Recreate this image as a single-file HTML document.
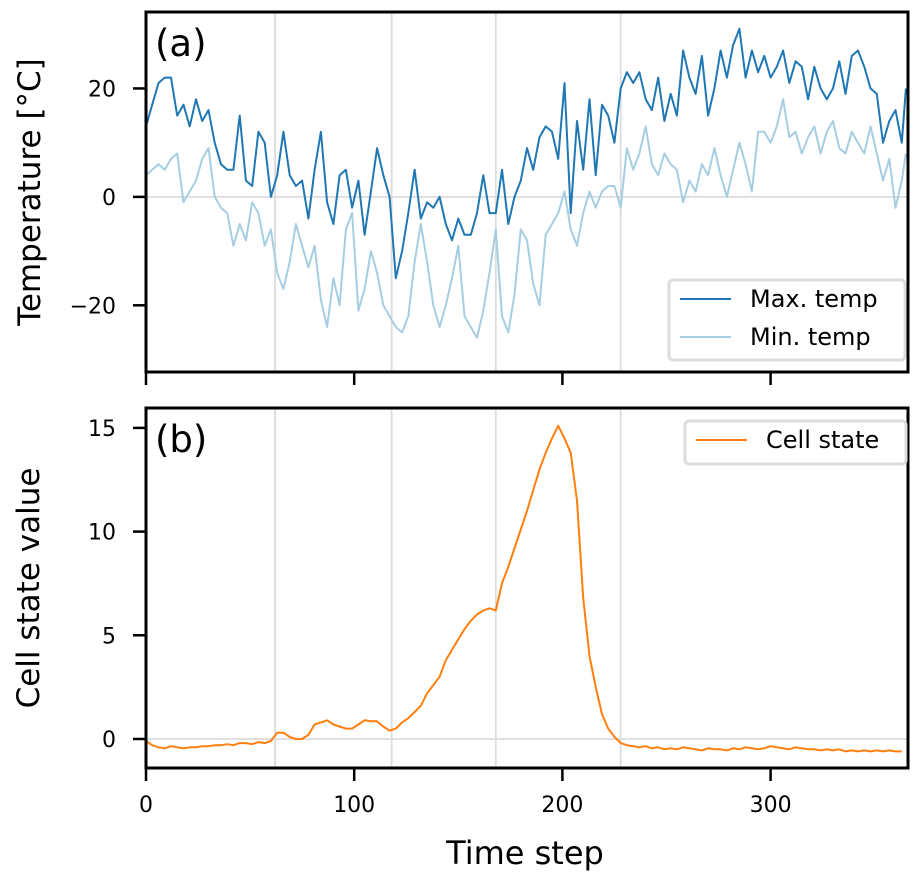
<!DOCTYPE html>
<html><head><meta charset="utf-8"><style>
body{margin:0;background:#fff}
svg text{font-family:"DejaVu Sans","Liberation Sans",sans-serif;fill:#000}
</style></head><body>
<svg id="chart" width="920" height="883" xmlns="http://www.w3.org/2000/svg"></svg>
<script>
const stepT = 3;
const maxTemp = [13,17,21,22,22,15,17,13,18,14,16,10,6,5,5,15,3,2,12,10,0,4,12,4,2,3,-4,5,12,-1,-5,4,5,-2,3,-7,1,9,4,0,-15,-10,-3,5,-4,-1,-2,0,-5,-8,-4,-7,-7,-3,4,-3,-3,5,-5,0,3,9,5,11,13,12,7,21,-3,14,5,18,4,17,15,10,20,23,21,23,18,16,22,14,19,15,27,22,19,26,15,20,27,22,28,31,22,27,23,26,22,24,27,21,25,24,18,24,20,18,20,25,19,26,27,24,20,19,10,14,16,10,20];
const minTemp = [4,5,6,5,7,8,-1,1,3,7,9,0,-2,-3,-9,-5,-8,-1,-3,-9,-6,-14,-17,-12,-5,-9,-13,-9,-19,-24,-15,-20,-6,-3,-21,-17,-10,-14,-20,-22,-24,-25,-22,-12,-5,-12,-20,-24,-20,-15,-9,-22,-24,-26,-21,-14,-6,-22,-25,-18,-6,-8,-16,-20,-7,-5,-3,1,-6,-9,-3,1,-2,1,2,2,-2,9,5,8,13,6,4,8,6,5,-1,3,1,6,4,9,4,0,5,10,6,1,12,12,10,13,18,11,12,8,11,13,8,12,14,9,8,12,10,8,13,8,3,7,-2,3,8];
const cellState = [-0.1,-0.3,-0.4,-0.45,-0.35,-0.4,-0.45,-0.4,-0.4,-0.35,-0.35,-0.3,-0.3,-0.25,-0.3,-0.2,-0.2,-0.25,-0.15,-0.2,-0.1,0.3,0.3,0.1,0,0,0.2,0.7,0.8,0.9,0.7,0.6,0.5,0.5,0.7,0.9,0.85,0.85,0.6,0.4,0.5,0.8,1.0,1.3,1.6,2.2,2.6,3.0,3.8,4.3,4.8,5.3,5.7,6.0,6.2,6.3,6.2,7.5,8.3,9.2,10.1,11.0,12.0,13.0,13.8,14.5,15.1,14.5,13.8,11.5,6.8,4.0,2.5,1.2,0.5,0.1,-0.2,-0.3,-0.35,-0.4,-0.35,-0.45,-0.4,-0.5,-0.45,-0.5,-0.4,-0.45,-0.5,-0.55,-0.45,-0.5,-0.5,-0.55,-0.45,-0.5,-0.4,-0.45,-0.5,-0.45,-0.35,-0.4,-0.45,-0.5,-0.4,-0.45,-0.5,-0.5,-0.55,-0.5,-0.55,-0.5,-0.6,-0.55,-0.6,-0.55,-0.6,-0.55,-0.6,-0.55,-0.6,-0.6];
const xTicks = [0,100,200,300];
const yTicksA = [-20,0,20];
const yTicksB = [0,5,10,15];
const vLines = [62,118,168,228];

const NS="http://www.w3.org/2000/svg";
const svg=document.getElementById('chart');
function mk(tag,attrs,parent,txt){const e=document.createElementNS(NS,tag);for(const k in attrs)e.setAttribute(k,attrs[k]);if(txt!==undefined)e.textContent=txt;(parent||svg).appendChild(e);return e;}
const L=146,R=908;
const xS=t=>L+(t-0)*(R-L)/366;
const A={top:12,bot:372,min:-32.3,max:34.1};
const B={top:408,bot:768,min:-1.4,max:15.96};
const yS=(p,v)=>p.bot-(v-p.min)*(p.bot-p.top)/(p.max-p.min);

function panel(p,name,yt,label,tag,showX){
  const g=mk('g',{});
  
  
  vLines.forEach(t=>{const l=mk('line',{x1:xS(t),x2:xS(t),y1:p.top,y2:p.bot,stroke:'#dcdcdc','stroke-width':1.8},g);
    });
  const z=mk('line',{x1:L,x2:R,y1:yS(p,0),y2:yS(p,0),stroke:'#dcdcdc','stroke-width':1.8},g);
  
  yt.forEach(v=>{const y=yS(p,v);mk('line',{x1:L-13,x2:L,y1:y,y2:y,stroke:'#000','stroke-width':2.5},g);
    const t=mk('text',{x:L-30,y:y+8,'text-anchor':'end','font-size':22},g,v<0?'\u2212'+(-v):String(v));
    });
  xTicks.forEach(v=>{const x=xS(v);mk('line',{x1:x,x2:x,y1:p.bot,y2:p.bot+13,stroke:'#000','stroke-width':2.5},g);
    if(showX){const t=mk('text',{x:x,y:p.bot+44,'text-anchor':'middle','font-size':22},g,String(v));
    }});
  const yl=mk('text',{x:0,y:0,'text-anchor':'middle','font-size':31,transform:`translate(${showX?39:40},${(p.top+p.bot)/2}) rotate(-90)`},g,label);
  
  const pl=mk('text',{x:L+9,y:p.top+44,'font-size':37},g,tag);
  
  return g;
}
function series(p,arr,color,name,g){
  const pts=arr.map((v,i)=>xS(Math.min(i*stepT,365)).toFixed(1)+','+yS(p,v).toFixed(1)).join(' ');
  const pl=mk('polyline',{points:pts,fill:'none',stroke:color,'stroke-width':2,'stroke-linejoin':'round'},g);
  
}
const gA=panel(A,'panel-a',yTicksA,'Temperature [°C]','(a)',false);
series(A,minTemp,'#a6cee3','min-temp-line',gA);
series(A,maxTemp,'#1f78b4','max-temp-line',gA);
const gB=panel(B,'panel-b',yTicksB,'Cell state value','(b)',true);
series(B,cellState,'#ff7f0e','cell-state-line',gB);
[A,B].forEach(p=>{const r=mk('rect',{x:L,y:p.top,width:R-L,height:p.bot-p.top,fill:'none',stroke:'#000','stroke-width':3});
  });
const xt=mk('text',{x:525,y:864,'text-anchor':'middle','font-size':32},svg,'Time step');


function legend(x,y,w,h,items,name){
  const g=mk('g',{});
  
  
  mk('rect',{x:x,y:y,width:w,height:h,rx:4,fill:'#fff','fill-opacity':0.9,stroke:'#dcdcdc','stroke-width':3},g);
  items.forEach((it,i)=>{const yy=y+19+i*38;
    mk('line',{x1:x+11,x2:x+62,y1:yy,y2:yy,stroke:it[1],'stroke-width':2},g);
    const t=mk('text',{x:x+81,y:yy+8,'font-size':24},g,it[0]);
    });
}
legend(669,280,236,80,[['Max. temp','#1f78b4'],['Min. temp','#a6cee3']],'legend-a');
legend(685,421,221,43,[['Cell state','#ff7f0e']],'legend-b');
</script>
</body></html>
